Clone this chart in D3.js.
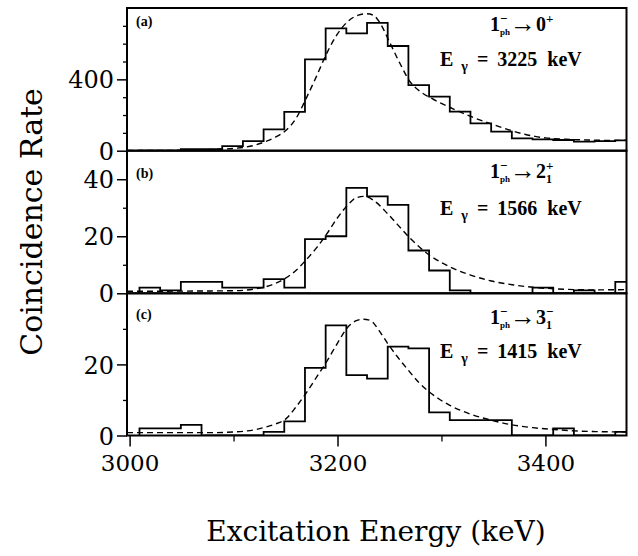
<!DOCTYPE html>
<html>
<head>
<meta charset="utf-8">
<script src="https://cdn.jsdelivr.net/npm/d3@7"></script>
<style>
  body { margin: 0; background: #fff; }
  svg { display: block; }
  text { fill: #000; }
</style>
</head>
<body>
<div class="chart"></div>
<script>
var svgWidth = 638;
var svgHeight = 556;

// x axis
var energyDomain = [2997.5, 3478];
var xMajorTicks = [3000, 3200, 3400];
var xMinorTicks = [3100, 3300];

// histogram bins (keV)
var binStart = 3009.5;
var binWidth = 19.9;

// counts per bin
var countsA = [0, 0, 8, 8, 26, 54, 120, 218, 512, 686, 658, 717, 587, 368, 303, 219, 153, 107, 69, 64, 60, 51, 54, 58];
var countsB = [2, 1, 4, 4, 2, 2, 5, 2, 19, 20, 37, 34, 31, 15, 8, 1, 0, 0, 0, 2, 0, 1, 0, 4];
var countsC = [2, 2, 3, 0, 0, 0, 1, 4, 19, 31, 17, 16, 25, 24.5, 6.5, 4.3, 4.3, 4.3, 0, 0, 2, 0, 0, 1];

// dashed fit curves [energy, rate]
var fitA = [[2997.5, 1], [3040, 2], [3060, 4], [3080, 7], [3100, 13], [3110, 19], [3120, 30], [3130, 50],
  [3140, 75], [3150, 112], [3160, 180], [3170, 295], [3180, 420], [3190, 550], [3200, 655], [3210, 725],
  [3220, 760], [3228, 768], [3235, 758], [3241, 715], [3250, 610], [3260, 490], [3270, 385], [3280, 330],
  [3290, 295], [3300, 265], [3310, 238], [3320, 212], [3330, 188], [3340, 166], [3350, 146], [3360, 126],
  [3370, 108], [3380, 92], [3390, 80], [3400, 72], [3420, 64], [3440, 60], [3460, 58], [3478, 58]];
var fitB = [[2997.5, 0.7], [3100, 0.9], [3120, 1.5], [3130, 2.2], [3140, 3.4], [3150, 5.3], [3160, 8],
  [3170, 11.8], [3180, 16], [3190, 21], [3200, 26.5], [3210, 31], [3218, 33.5], [3226, 34], [3235, 32.5],
  [3248, 28], [3258, 24], [3268, 20], [3278, 16.5], [3288, 13.5], [3298, 11.2], [3308, 9.3], [3318, 7.7],
  [3328, 6.4], [3348, 4.3], [3368, 3], [3388, 2.1], [3408, 1.6], [3428, 1.3], [3448, 1.2], [3478, 1.3]];
var fitC = [[2997.5, 0.8], [3080, 0.8], [3100, 1], [3110, 1.2], [3120, 1.6], [3130, 2.3], [3140, 3.2],
  [3150, 4.6], [3160, 8], [3170, 12], [3180, 16.5], [3190, 21], [3200, 26], [3210, 30.5], [3218, 32.3],
  [3225, 32.7], [3232, 32.3], [3240, 29.5], [3248, 26], [3258, 22], [3268, 18.4], [3278, 15], [3288, 12.3],
  [3298, 10.2], [3308, 8.5], [3328, 6], [3348, 4.3], [3368, 3], [3388, 2.2], [3408, 1.7], [3428, 1.3],
  [3448, 1.1], [3478, 1]];

// y axes
var yMax = [800, 50, 40];
var yLabelTicks = [[0, 400], [0, 20, 40], [0, 20]];
var yMinorTicks = [[100, 200, 300, 500, 600, 700], [10, 30], [10, 30]];

// labels
var panelTags = ["(a)", "(b)", "(c)"];
var finalStates = [["0", "+", ""], ["2", "+", "1"], ["3", "\u2212", "1"]];
var gammaEnergies = ["3225", "1566", "1415"];

var left = 127, right = 626.5;
var panelTops = [8, 150.7, 293.3, 435.5];
var tagOffset = [18, 27, 26];
var transOffset = [23, 27.5, 30.5];
var eOffset = [58, 64.5, 64.5];

var svg = d3.select(".chart")
  .append("svg")
  .attr("width", svgWidth)
  .attr("height", svgHeight);

var x = d3.scaleLinear().domain(energyDomain).range([left, right]);

var serif = "'DejaVu Serif', serif";
var times = "'Liberation Serif', 'Times New Roman', serif";

var allCounts = [countsA, countsB, countsC];
var allFits = [fitA, fitB, fitC];

allCounts.forEach(function(counts, p) {
  var top = panelTops[p], bottom = panelTops[p + 1];
  var y = d3.scaleLinear().domain([0, yMax[p]]).range([bottom, top]);

  var g = svg.append("g");

  svg.append("clipPath").attr("id", "clip" + p)
    .append("rect")
    .attr("x", left).attr("y", top)
    .attr("width", right - left).attr("height", bottom - top);

  // histogram as a step outline
  var pts = [[binStart, 0]];
  counts.forEach(function(c, i) {
    pts.push([binStart + i * binWidth, c]);
    pts.push([binStart + (i + 1) * binWidth, c]);
  });
  pts.push([binStart + counts.length * binWidth, 0]);

  var line = d3.line().x(d => x(d[0])).y(d => y(d[1]));

  g.append("path")
    .attr("clip-path", "url(#clip" + p + ")")
    .attr("d", line(pts))
    .attr("fill", "none")
    .attr("stroke", "#000")
    .attr("stroke-width", 1.8);

  g.append("path")
    .attr("clip-path", "url(#clip" + p + ")")
    .attr("d", line.curve(d3.curveMonotoneX)(allFits[p]))
    .attr("fill", "none")
    .attr("stroke", "#000")
    .attr("stroke-width", 1.4)
    .attr("stroke-dasharray", "6,4");

  // frame
  g.append("rect")
    .attr("x", left).attr("y", top)
    .attr("width", right - left).attr("height", bottom - top)
    .attr("fill", "none")
    .attr("stroke", "#000")
    .attr("stroke-width", 2);

  // y ticks
  var yAxis = d3.axisLeft(y).tickValues(yLabelTicks[p]).tickSize(10).tickPadding(3);
  var ya = g.append("g").attr("transform", `translate(${left},0)`).call(yAxis);
  ya.select(".domain").remove();
  ya.selectAll("line").attr("stroke-width", 1.5);
  ya.selectAll("text")
    .style("font-family", serif)
    .style("font-size", "24px")
    .attr("dy", "0.36em");

  var ym = d3.axisLeft(y).tickValues(yMinorTicks[p]).tickSize(4).tickFormat("");
  var yma = g.append("g").attr("transform", `translate(${left},0)`).call(ym);
  yma.select(".domain").remove();
  yma.selectAll("line").attr("stroke-width", 1.3);

  // panel tag
  g.append("text")
    .attr("x", 136)
    .attr("y", top + tagOffset[p])
    .style("font-family", times)
    .style("font-weight", "bold")
    .style("font-size", "14px")
    .text(panelTags[p]);

  // transition label
  var tx = 490;
  var t = g.append("text")
    .attr("x", tx)
    .attr("y", top + transOffset[p])
    .style("font-family", times)
    .style("font-weight", "bold")
    .style("font-size", "20px");
  var one = t.append("tspan").text("1");
  var w1 = one.node().getComputedTextLength();
  t.append("tspan").attr("dy", -8).style("font-size", "13px").text("\u2212");
  t.append("tspan").attr("x", tx + w1).attr("dy", 12).style("font-size", "9px").text("ph");
  t.append("tspan").attr("dy", -3).attr("dx", 0).style("font-size", "26px").text("\u2192");
  var fs = finalStates[p];
  var st = t.append("tspan").attr("dy", -1).text(fs[0]);
  t.append("tspan").attr("dy", -8).style("font-size", "13px").text(fs[1]);
  if (fs[2]) {
    var wst = st.node().getComputedTextLength();
    var start = st.node().getStartPositionOfChar(0).x;
    t.append("tspan").attr("x", start + wst).attr("dy", 13).style("font-size", "12px").text(fs[2]);
  }

  // gamma energy label
  var e = g.append("text")
    .attr("x", 440)
    .attr("y", top + eOffset[p])
    .style("font-family", times)
    .style("font-weight", "bold")
    .style("font-size", "20px");
  e.append("tspan").text("E");
  e.append("tspan").attr("dx", 8).attr("dy", 5).style("font-size", "14px").text("\u03b3");
  e.append("tspan").attr("dx", 9).attr("dy", -5).text("=");
  e.append("tspan").attr("dx", 9).text(gammaEnergies[p]);
  e.append("tspan").attr("dx", 10).text("keV");
});

// x axis at bottom of last panel
var xb = panelTops[3];
var xAxis = d3.axisBottom(x).tickValues(xMajorTicks).tickSize(11).tickPadding(8).tickFormat(d3.format("d"));
var xa = svg.append("g").attr("transform", `translate(0,${xb})`).call(xAxis);
xa.select(".domain").remove();
xa.selectAll("line").attr("stroke-width", 1.5);
xa.selectAll("text")
  .style("font-family", serif)
  .style("font-size", "23px");

var xm = d3.axisBottom(x).tickValues(xMinorTicks).tickSize(6).tickFormat("");
var xma = svg.append("g").attr("transform", `translate(0,${xb})`).call(xm);
xma.select(".domain").remove();
xma.selectAll("line").attr("stroke-width", 1.3);

// axis titles
svg.append("text")
  .attr("x", 376)
  .attr("y", 541)
  .attr("text-anchor", "middle")
  .style("font-family", serif)
  .style("font-size", "28px")
  .text("Excitation Energy (keV)");

svg.append("text")
  .attr("transform", "translate(42,222) rotate(-90)")
  .attr("text-anchor", "middle")
  .style("font-family", serif)
  .style("font-size", "30px")
  .text("Coincidence Rate");
</script>
</body>
</html>
